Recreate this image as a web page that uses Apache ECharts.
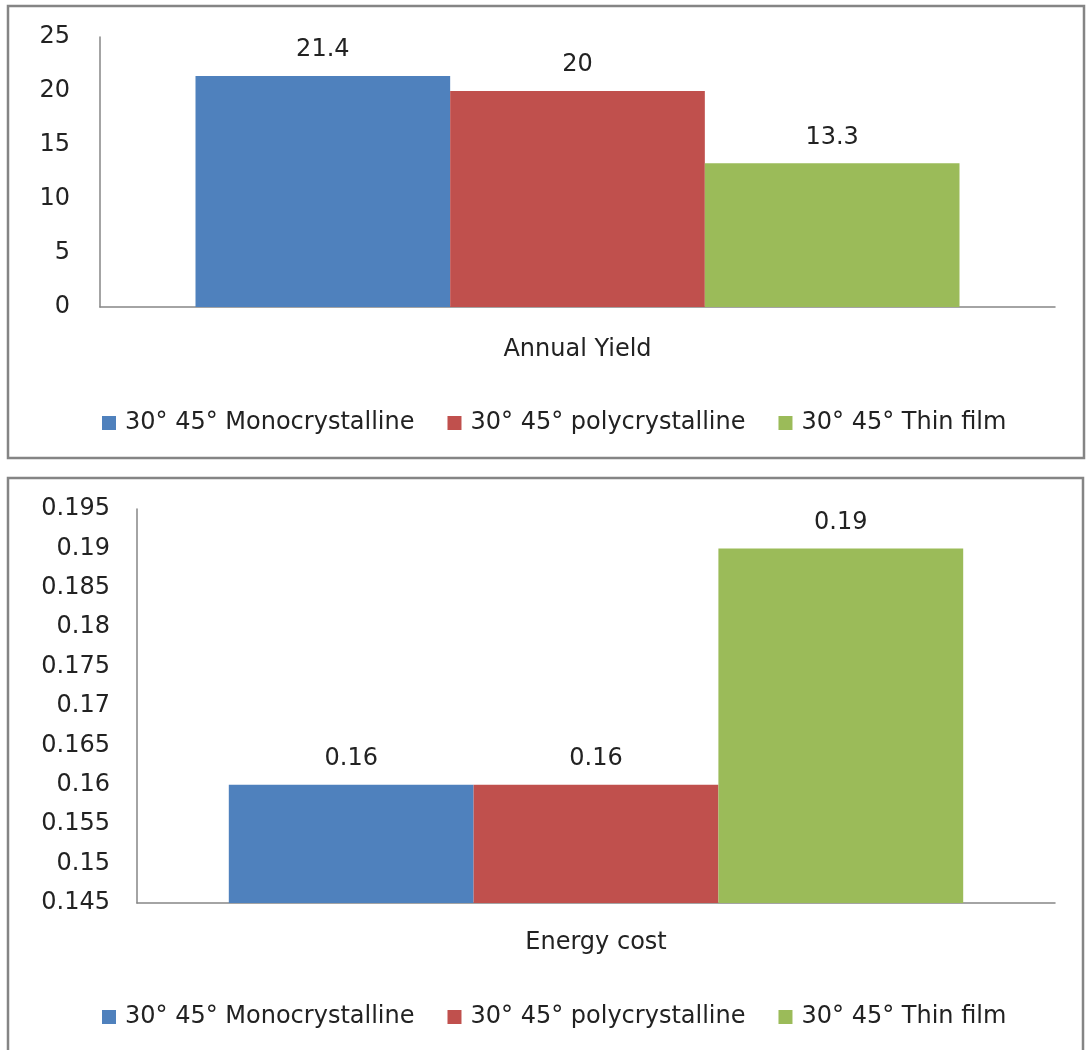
<!DOCTYPE html>
<html>
<head>
<meta charset="utf-8">
<script src="https://cdn.jsdelivr.net/npm/echarts@6/dist/echarts.min.js"></script>
<style>
html,body{margin:0;padding:0;background:#fff;}
#c{width:1086px;height:1050px;}
</style>
</head>
<body>
<div id="c"></div>
<script>
const seriesNames = ['30° 45° Monocrystalline', '30° 45° polycrystalline', '30° 45° Thin film'];
const colors = ['#4F81BD', '#C0504D', '#9BBB59'];
const cat1 = ['Annual Yield'];
const cat2 = ['Energy cost'];
const yield1 = [21.4, 20, 13.3];
const cost2 = [0.16, 0.16, 0.19];
const y1Ticks = {min: 0, max: 25, interval: 5};
const y2Ticks = {min: 0.145, max: 0.195, interval: 0.005};

const FONT = 'DejaVu Sans';
const textColor = '#222222';
const axisColor = '#868686';

const chart = echarts.init(document.getElementById('c'), null, {renderer: 'canvas'});

const fmt = v => String(parseFloat(Number(v).toFixed(3)));

const series = [];
seriesNames.forEach((n, i) => {
  series.push({
    name: n, type: 'bar', xAxisIndex: 0, yAxisIndex: 0,
    data: [yield1[i]], barGap: '0%', barCategoryGap: '20%',
    itemStyle: {color: colors[i]},
    label: {show: true, position: 'top', distance: 14, fontFamily: FONT, fontSize: 24, color: textColor}
  });
});
seriesNames.forEach((n, i) => {
  series.push({
    name: n, type: 'bar', xAxisIndex: 1, yAxisIndex: 1,
    data: [cost2[i]], barGap: '0%', barCategoryGap: '20%',
    itemStyle: {color: colors[i]},
    label: {show: true, position: 'top', distance: 14, fontFamily: FONT, fontSize: 24, color: textColor,
      formatter: p => fmt(p.value)}
  });
});

const legendCommon = {
  data: seriesNames, icon: 'rect', itemWidth: 14, itemHeight: 14, itemGap: 33,
  textStyle: {fontFamily: FONT, fontSize: 24, color: textColor, padding: [0, 0, 0, 4]},
  selectedMode: false, left: 97
};

chart.setOption({
  animation: false,
  graphic: [
    {type: 'rect', shape: {x: 8, y: 6, width: 1076, height: 452}, style: {fill: 'none', stroke: '#858585', lineWidth: 2.5}, z: 10},
    {type: 'rect', shape: {x: 8, y: 478, width: 1075, height: 600}, style: {fill: 'none', stroke: '#858585', lineWidth: 2.5}, z: 10}
  ],
  grid: [
    {left: 100, top: 37, width: 955, height: 270},
    {left: 137, top: 509, width: 918, height: 394}
  ],
  legend: [
    Object.assign({}, legendCommon, {top: 406}),
    Object.assign({}, legendCommon, {top: 1000})
  ],
  xAxis: [
    {type: 'category', gridIndex: 0, data: cat1,
      axisLine: {lineStyle: {color: axisColor, width: 1.5}}, axisTick: {show: false},
      axisLabel: {margin: 31, fontFamily: FONT, fontSize: 24, color: textColor}},
    {type: 'category', gridIndex: 1, data: cat2,
      axisLine: {lineStyle: {color: axisColor, width: 1.5}}, axisTick: {show: false},
      axisLabel: {margin: 28, fontFamily: FONT, fontSize: 24, color: textColor}}
  ],
  yAxis: [
    {type: 'value', gridIndex: 0, min: y1Ticks.min, max: y1Ticks.max, interval: y1Ticks.interval,
      axisLine: {show: true, lineStyle: {color: axisColor, width: 1.5}}, axisTick: {show: false},
      splitLine: {show: false},
      axisLabel: {margin: 30, fontFamily: FONT, fontSize: 24, color: textColor, padding: [4, 0, 0, 0]}},
    {type: 'value', gridIndex: 1, min: y2Ticks.min, max: y2Ticks.max, interval: y2Ticks.interval,
      axisLine: {show: true, lineStyle: {color: axisColor, width: 1.5}}, axisTick: {show: false},
      splitLine: {show: false},
      axisLabel: {margin: 27, fontFamily: FONT, fontSize: 24, color: textColor, padding: [4, 0, 0, 0], formatter: fmt}}
  ],
  series: series
});
</script>
</body>
</html>
